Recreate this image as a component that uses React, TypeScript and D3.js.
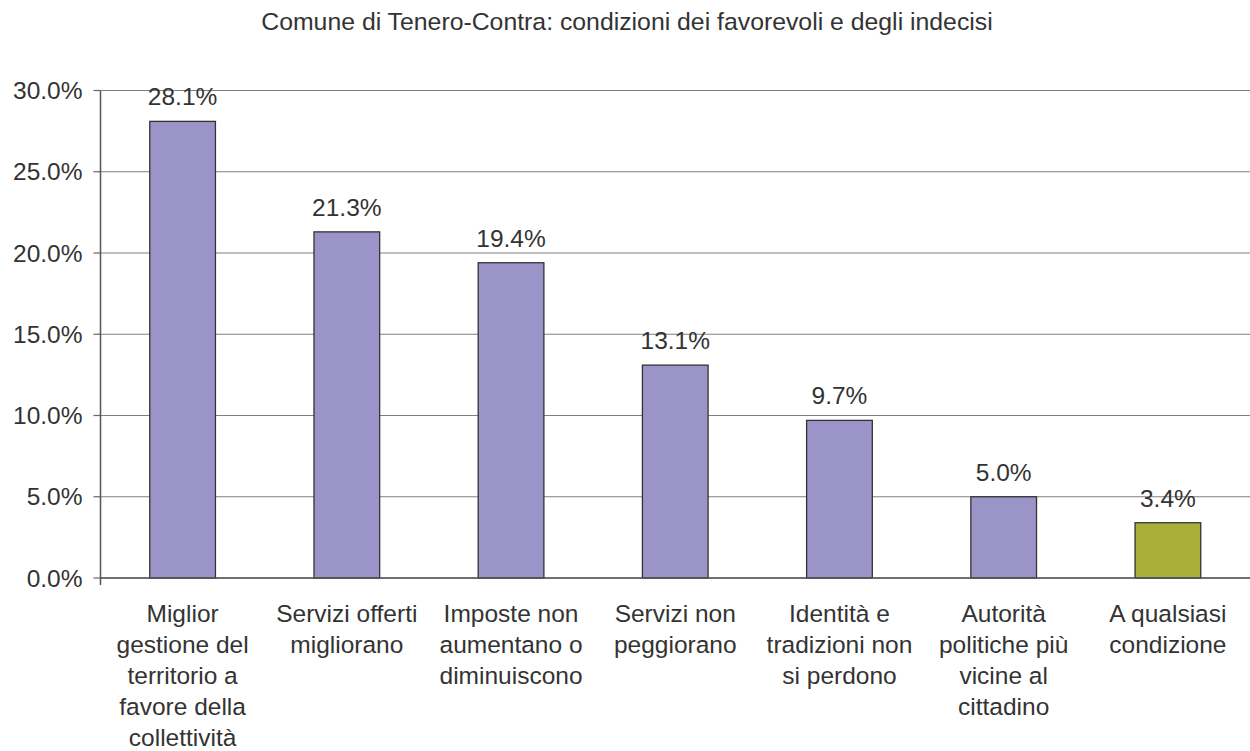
import React, { useRef, useEffect } from 'react';
import * as d3 from 'd3';

const title = 'Comune di Tenero-Contra: condizioni dei favorevoli e degli indecisi';

const categories: string[][] = [
  ['Miglior', 'gestione del', 'territorio a', 'favore della', 'collettività'],
  ['Servizi offerti', 'migliorano'],
  ['Imposte non', 'aumentano o', 'diminuiscono'],
  ['Servizi non', 'peggiorano'],
  ['Identità e', 'tradizioni non', 'si perdono'],
  ['Autorità', 'politiche più', 'vicine al', 'cittadino'],
  ['A qualsiasi', 'condizione'],
];
const values = [28.1, 21.3, 19.4, 13.1, 9.7, 5.0, 3.4];
const colors = ['#9b94c8', '#9b94c8', '#9b94c8', '#9b94c8', '#9b94c8', '#9b94c8', '#a8b03a'];
const yTicks = [0, 5, 10, 15, 20, 25, 30];

export default function App() {
  const ref = useRef<SVGSVGElement>(null);

  useEffect(() => {
    if (!ref.current) return;
    const width = 1250;
    const height = 751;
    const margin = { top: 90.5, right: 0, bottom: 173, left: 100.5 };
    const innerW = width - margin.left - margin.right;
    const innerH = height - margin.top - margin.bottom;

    const svg = d3.select(ref.current);
    svg.selectAll('*').remove();

    const font = '"Liberation Sans", Arial, sans-serif';
    const fs = 24.5;

    svg.append('text')
      .attr('x', 627).attr('y', 30)
      .attr('text-anchor', 'middle')
      .attr('font-family', font).attr('font-size', 24.8)
      .attr('fill', '#333')
      .text(title);

    const g = svg.append('g').attr('transform', `translate(${margin.left},${margin.top})`);

    const x = d3.scaleBand<number>().domain(d3.range(values.length)).range([0, innerW]).padding(0);
    const y = d3.scaleLinear().domain([0, 30]).range([innerH, 0]);

    // gridlines
    g.selectAll('.grid').data(yTicks).enter().append('line')
      .attr('x1', 0).attr('x2', innerW)
      .attr('y1', d => y(d)).attr('y2', d => y(d))
      .attr('stroke', '#808080').attr('stroke-width', 1.2);

    // y ticks + labels
    g.selectAll('.yt').data(yTicks).enter().append('line')
      .attr('x1', -7).attr('x2', 0)
      .attr('y1', d => y(d)).attr('y2', d => y(d))
      .attr('stroke', '#666').attr('stroke-width', 1.2);
    g.selectAll('.yl').data(yTicks).enter().append('text')
      .attr('x', -18).attr('y', d => y(d))
      .attr('dy', '0.35em')
      .attr('text-anchor', 'end')
      .attr('font-family', font).attr('font-size', fs)
      .attr('fill', '#333')
      .text(d => d3.format('.1f')(d) + '%');

    // y axis line
    g.append('line')
      .attr('x1', 0).attr('x2', 0).attr('y1', 0).attr('y2', innerH + 7)
      .attr('stroke', '#555').attr('stroke-width', 1.5);

    // bars
    const bw = x.bandwidth() * 0.4;
    g.selectAll('.bar').data(values).enter().append('rect')
      .attr('x', (d, i) => (x(i) as number) + (x.bandwidth() - bw) / 2)
      .attr('y', d => y(d))
      .attr('width', bw)
      .attr('height', d => innerH - y(d))
      .attr('fill', (d, i) => colors[i])
      .attr('stroke', '#333').attr('stroke-width', 1.3);

    // x axis line
    g.append('line')
      .attr('x1', 0).attr('x2', innerW).attr('y1', innerH).attr('y2', innerH)
      .attr('stroke', '#555').attr('stroke-width', 1.5);

    // value labels
    g.selectAll('.vl').data(values).enter().append('text')
      .attr('x', (d, i) => (x(i) as number) + x.bandwidth() / 2)
      .attr('y', d => y(d) - 16)
      .attr('text-anchor', 'middle')
      .attr('font-family', font).attr('font-size', fs)
      .attr('fill', '#333')
      .text(d => d3.format('.1f')(d) + '%');

    // category labels
    categories.forEach((lines, i) => {
      const cx = (x(i) as number) + x.bandwidth() / 2;
      const t = g.append('text')
        .attr('x', cx)
        .attr('y', innerH + 43.5)
        .attr('text-anchor', 'middle')
        .attr('font-family', font).attr('font-size', fs)
        .attr('fill', '#333');
      lines.forEach((l, j) => {
        t.append('tspan')
          .attr('x', cx)
          .attr('dy', j === 0 ? 0 : 31)
          .text(l);
      });
    });
  }, []);

  return (
    <svg ref={ref} width={1250} height={751}
      style={{ position: 'absolute', left: 0, top: 0, background: '#fff' }} />
  );
}
